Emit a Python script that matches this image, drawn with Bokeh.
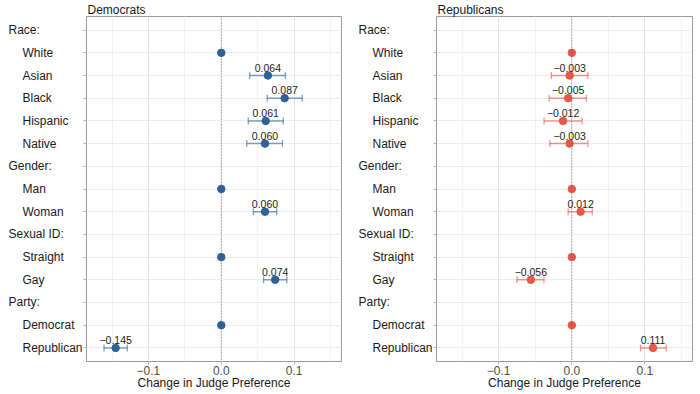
from bokeh.plotting import figure
from bokeh.layouts import row
from bokeh.models import (ColumnDataSource, Range1d, FixedTicker, Span, Whisker,
                          TeeHead, LabelSet)
from bokeh.core.properties import value
from bokeh.embed import file_html
from bokeh.resources import INLINE

# ---------------- data ----------------
categories = ["Race:", "White", "Asian", "Black", "Hispanic", "Native",
              "Gender:", "Man", "Woman",
              "Sexual ID:", "Straight", "Gay",
              "Party:", "Democrat", "Republican"]
is_header = [True, False, False, False, False, False,
             True, False, False,
             True, False, False,
             True, False, False]

dem_est = [None, 0.0, 0.064, 0.087, 0.061, 0.060, None, 0.0, 0.060, None, 0.0, 0.074, None, 0.0, -0.145]
dem_lo = [None, None, 0.039, 0.063, 0.037, 0.035, None, None, 0.044, None, None, 0.058, None, None, -0.161]
dem_hi = [None, None, 0.088, 0.111, 0.085, 0.084, None, None, 0.076, None, None, 0.090, None, None, -0.129]

rep_est = [None, 0.0, -0.003, -0.005, -0.012, -0.003, None, 0.0, 0.012, None, 0.0, -0.056, None, 0.0, 0.111]
rep_lo = [None, None, -0.028, -0.031, -0.038, -0.030, None, None, -0.005, None, None, -0.075, None, None, 0.094]
rep_hi = [None, None, 0.022, 0.020, 0.014, 0.022, None, None, 0.028, None, None, -0.038, None, None, 0.129]

x_ticks = [-0.1, 0.0, 0.1]
x_tick_labels = ["\u22120.1", "0.0", "0.1"]
x_minor = [-0.15, -0.05, 0.05, 0.15]

FONT = "Liberation Sans"
BLUE = "#2E6299"
RED = "#E8574A"

n = len(categories)
ypos = list(range(1, n + 1))

TOP = 16
BOTTOM = 33
FRAME_H = 394 - TOP - BOTTOM
LABEL_W = 82


def fmt(v):
    return f"{v:.3f}".replace("-", "\u2212")


def label_column():
    q = figure(frame_width=LABEL_W, frame_height=FRAME_H,
               min_border_left=0, min_border_right=0,
               min_border_top=TOP, min_border_bottom=BOTTOM,
               x_range=Range1d(0, LABEL_W), y_range=Range1d(n + 0.6, 0.4),
               x_axis_type=None, y_axis_type=None,
               output_backend="svg", toolbar_location=None)
    q.outline_line_color = None
    q.grid.visible = False
    q.background_fill_color = "white"
    q.border_fill_color = "white"
    q.text(x=[8 if h else 22 for h in is_header], y=ypos, text=categories,
           text_align="left", text_baseline="middle",
           text_font=value(FONT), text_font_size="12px", text_color="#1a1a1a")
    return q


def panel(title, est, lo, hi, color, frame_w, right_border):
    p = figure(frame_width=frame_w, frame_height=FRAME_H,
               min_border_left=4, min_border_right=right_border,
               min_border_top=TOP, min_border_bottom=BOTTOM,
               x_range=Range1d(-0.185, 0.165), y_range=Range1d(n + 0.6, 0.4),
               output_backend="svg", toolbar_location=None, title=title)
    p.background_fill_color = "white"
    p.border_fill_color = "white"
    p.outline_line_color = "#9a9a9a"
    p.outline_line_width = 1

    p.title.text_font = FONT
    p.title.text_font_size = "12px"
    p.title.text_font_style = "normal"
    p.title.text_color = "#1a1a1a"
    p.title.standoff = 0
    p.title.offset = 1
    p.title.align = "left"

    # grids
    p.xgrid.ticker = FixedTicker(ticks=x_ticks, minor_ticks=x_minor)
    p.xgrid.grid_line_color = "#e6e6e6"
    p.xgrid.minor_grid_line_color = "#f3f3f3"
    p.ygrid.ticker = FixedTicker(ticks=ypos)
    p.ygrid.grid_line_color = "#ececec"

    # x axis
    xa = p.xaxis[0]
    xa.ticker = FixedTicker(ticks=x_ticks, minor_ticks=x_minor)
    xa.major_label_overrides = {t: l for t, l in zip(x_ticks, x_tick_labels)}
    xa.axis_line_color = None
    xa.major_tick_line_color = "#b3b3b3"
    xa.major_tick_out = 3
    xa.major_tick_in = 0
    xa.minor_tick_line_color = None
    xa.major_label_standoff = 0
    xa.major_label_text_font = FONT
    xa.major_label_text_font_size = "12px"
    xa.major_label_text_color = "#4d4d4d"
    xa.axis_label = "Change in Judge Preference"
    xa.axis_label_standoff = -2
    xa.axis_label_text_font = FONT
    xa.axis_label_text_font_size = "12px"
    xa.axis_label_text_font_style = "normal"
    xa.axis_label_text_color = "#1a1a1a"

    # y axis: ticks only (labels drawn left-aligned in the label column)
    ya = p.yaxis[0]
    ya.ticker = FixedTicker(ticks=ypos)
    ya.major_label_overrides = {i: "" for i in ypos}
    ya.major_label_standoff = 0
    ya.axis_line_color = None
    ya.major_tick_line_color = "#b3b3b3"
    ya.major_tick_out = 3
    ya.major_tick_in = 0
    ya.minor_tick_line_color = None

    # zero line
    p.add_layout(Span(location=0, dimension="height", line_color="#555555",
                      line_width=0.8, line_dash="1 2"))

    # error bars
    eb_src = ColumnDataSource(dict(
        y=[y for y, l in zip(ypos, lo) if l is not None],
        lo=[l for l in lo if l is not None],
        hi=[h for h in hi if h is not None]))
    p.add_layout(Whisker(source=eb_src, base="y", lower="lo", upper="hi",
                         dimension="width", line_color=color, line_alpha=0.6,
                         line_width=1.5,
                         upper_head=TeeHead(size=7, line_color=color, line_alpha=0.6, line_width=1.3),
                         lower_head=TeeHead(size=7, line_color=color, line_alpha=0.6, line_width=1.3)))

    # points
    p.scatter(x=[e for e in est if e is not None],
              y=[y for y, e in zip(ypos, est) if e is not None],
              size=7.5, color=color, line_color=color)

    # value labels
    lab_src = ColumnDataSource(dict(
        x=[e for e, l in zip(est, lo) if l is not None],
        y=[y for y, l in zip(ypos, lo) if l is not None],
        t=[fmt(e) for e, l in zip(est, lo) if l is not None]))
    p.add_layout(LabelSet(x="x", y="y", text="t", source=lab_src,
                          text_align="center", text_baseline="alphabetic",
                          y_offset=4, text_font=value(FONT), text_font_size="10.5px",
                          text_color="#222222"))
    return p


l1 = label_column()
p1 = panel("Democrats", dem_est, dem_lo, dem_hi, BLUE, 255, 9)
l2 = label_column()
p2 = panel("Republicans", rep_est, rep_lo, rep_hi, RED, 256, 8)
layout = row(l1, p1, l2, p2)

open("out.html", "w").write(file_html(layout, INLINE))
